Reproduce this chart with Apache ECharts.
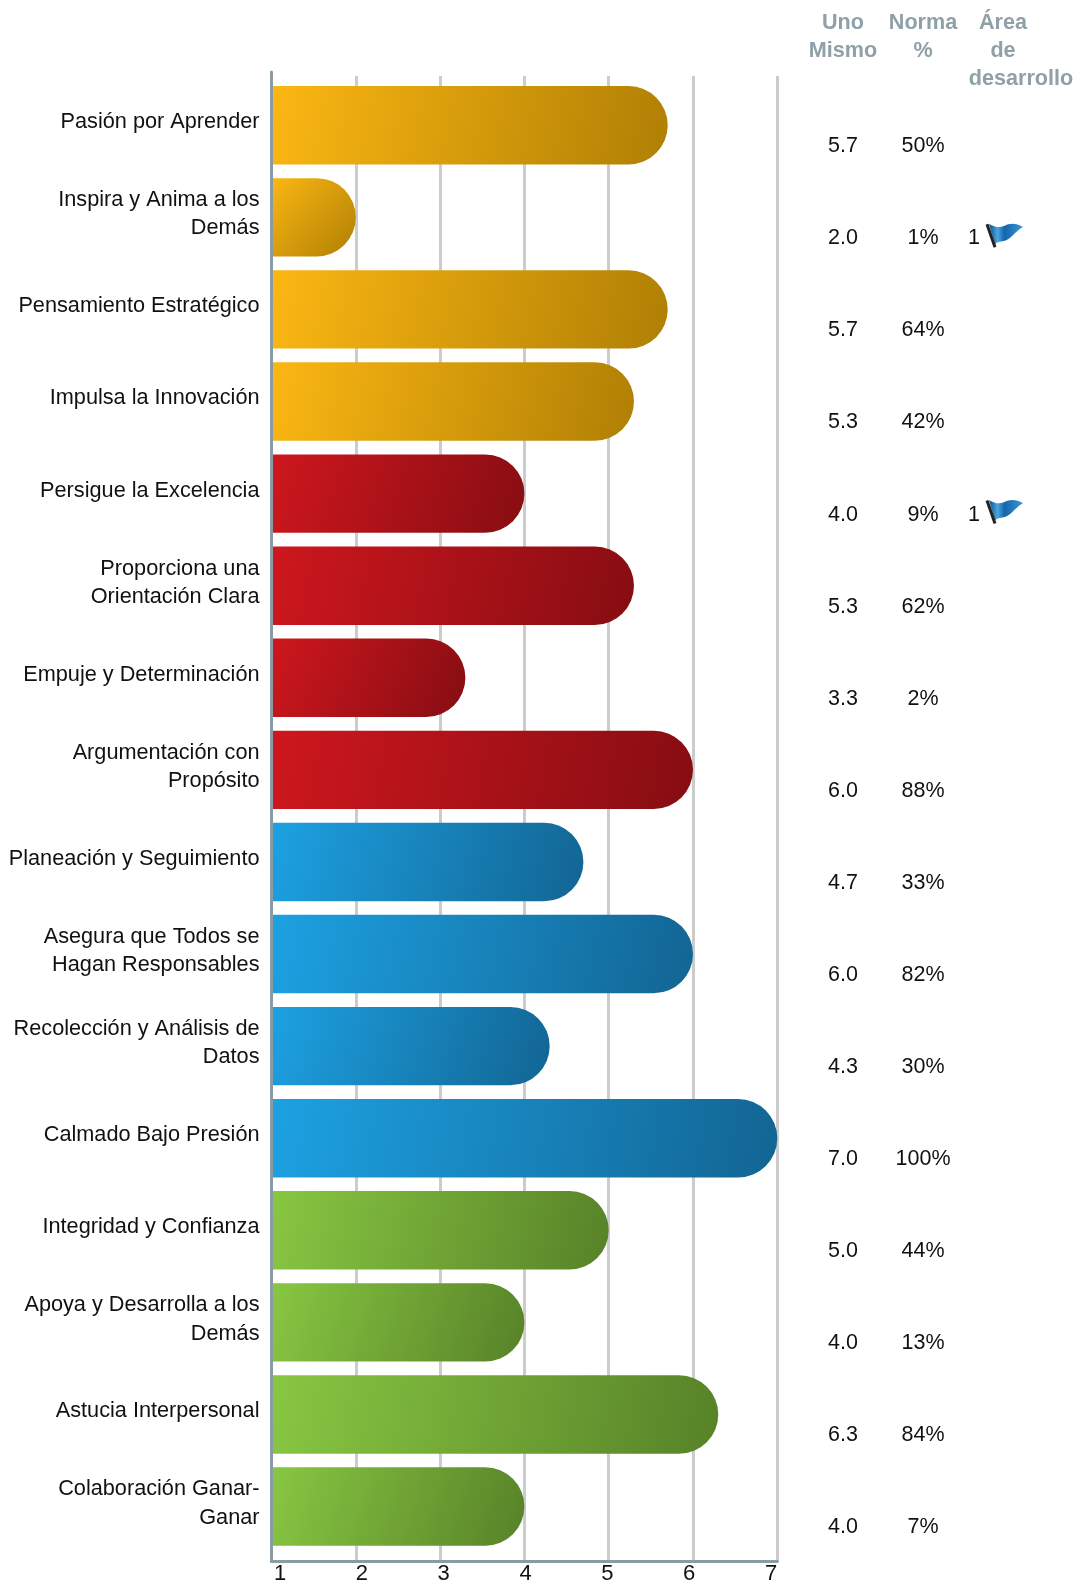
<!DOCTYPE html>
<html><head><meta charset="utf-8">
<style>html,body{margin:0;padding:0;background:#fff}#c{width:1078px;height:1582px}</style>
<script src="https://cdn.jsdelivr.net/npm/echarts@6/dist/echarts.min.js"></script>
</head><body><div id="c"></div>
<script>
const categories = ['Pasión por Aprender','Inspira y Anima a los\nDemás','Pensamiento Estratégico','Impulsa la Innovación','Persigue la Excelencia','Proporciona una\nOrientación Clara','Empuje y Determinación','Argumentación con\nPropósito','Planeación y Seguimiento','Asegura que Todos se\nHagan Responsables','Recolección y Análisis de\nDatos','Calmado Bajo Presión','Integridad y Confianza','Apoya y Desarrolla a los\nDemás','Astucia Interpersonal','Colaboración Ganar-\nGanar'];
const barValues = [5.7,2,5.7,5.3,4,5.3,3.3,6,4.7,6,4.3,7,5,4,6.3,4];
const selfLabels = ['5.7','2.0','5.7','5.3','4.0','5.3','3.3','6.0','4.7','6.0','4.3','7.0','5.0','4.0','6.3','4.0'];
const normLabels = ['50%','1%','64%','42%','9%','62%','2%','88%','33%','82%','30%','100%','44%','13%','84%','7%'];
const devLabels = ['','1','','','1','','','','','','','','','','',''];
const groupOf = [0,0,0,0,1,1,1,1,2,2,2,2,3,3,3,3];
const gradients = [['#FBB713','#B07F04'],['#CE171E','#860D12'],['#1DA1E2','#126593'],['#88C742','#578228']];

const pageW=1078;
const gridL=271.5, gridR=777.3, barTop=79.2, barBot=1552.6;
const box=(l,r,t,b)=>({left:l,width:r-l,top:t,height:b-t});
const catAxis=(grid,extra)=>Object.assign({type:'category',gridIndex:grid,data:categories,inverse:true,axisLine:{show:false},axisTick:{show:false},axisLabel:{show:false},splitLine:{show:false}},extra);
const valAxis=(grid,extra)=>Object.assign({type:'value',gridIndex:grid,min:1,max:7,interval:1,axisLine:{show:false},axisTick:{show:false},axisLabel:{show:false},splitLine:{show:false}},extra);
const fontFamily='"Liberation Sans", Arial, sans-serif';
const colAxis=(grid,data,x)=>({type:'category',gridIndex:grid,data:data,inverse:true,position:'left',offset:-x,axisLine:{show:false},axisTick:{show:false},splitLine:{show:false},
  axisLabel:{show:true,interval:0,align:'center',margin:0,fontSize:21.5,color:'#111',fontFamily:fontFamily}});

const option={
  animation:false,backgroundColor:'#fff',
  textStyle:{fontFamily:fontFamily},
  grid:[
    box(gridL,gridR,76,1561),
    box(gridL,gridR,72,1561),
    box(gridL,gridR,barTop,barBot),
    box(280,771,1561,1562),
    box(0,pageW,barTop+21,barBot+21),
    box(gridL,gridR,barTop-3,barBot-3)
  ],
  xAxis:[
    valAxis(0,{splitLine:{show:true,lineStyle:{color:'#cccccc',width:3}}}),
    valAxis(1,{axisLine:{show:true,onZero:false,lineStyle:{color:'#8a9ba3',width:3}},z:5}),
    valAxis(2),
    valAxis(3,{axisLabel:{show:true,margin:2,fontSize:22,color:'#111',fontFamily:fontFamily,hideOverlap:false,showMinLabel:true,showMaxLabel:true}}),
    {type:'value',gridIndex:4,min:0,max:pageW,show:false},
    valAxis(5)
  ],
  yAxis:[
    catAxis(0),
    catAxis(1,{axisLine:{show:true,onZero:false,lineStyle:{color:'#8a9ba3',width:3}},z:5}),
    catAxis(2),
    catAxis(3),
    colAxis(4,selfLabels,843),
    colAxis(4,normLabels,923),
    colAxis(4,devLabels,974),
    catAxis(5,{axisLabel:{show:true,interval:0,margin:12,fontSize:21.7,lineHeight:28.3,color:'#111',align:'right',fontFamily:fontFamily}})
  ],
  series:[
    {type:'bar',xAxisIndex:2,yAxisIndex:2,barWidth:78.4,z:3,
     data:barValues.map((v,i)=>{const g=gradients[groupOf[i]];return {value:v,itemStyle:{
       borderRadius:[0,39.2,39.2,0],
       color:new echarts.graphic.LinearGradient(0,0,1,1,[{offset:0,color:g[0]},{offset:1,color:g[1]}])}};})},
    {type:'custom',xAxisIndex:4,yAxisIndex:4,z:4,silent:true,clip:false,
     data:devLabels.map((d,i)=>d?[1004,i]:null).filter(Boolean),
     renderItem:function(p,api){
       const c=api.coord([api.value(0),api.value(1)]);
       return {type:'group',x:c[0],y:c[1]-1,children:[
         {type:'path',shape:{pathData:'M-15,-13 C-9,-10 -5,-9 0,-11 C6,-14 12,-14 19,-10 C13,-7 9,-1 4,2 C-1,5 -5,3 -9,7 Z',x:-15,y:-13.5,width:34,height:20.5,layout:'cover'},
          style:{fill:new echarts.graphic.LinearGradient(0,0,1,0,[{offset:0,color:'#0d4f8a'},{offset:.25,color:'#4aa6e0'},{offset:.45,color:'#1565ad'},{offset:1,color:'#3a98d4'}])}},
         {type:'line',shape:{x1:-17,y1:-13,x2:-9,y2:10},style:{stroke:'#222',lineWidth:3}}
       ]};
     }}
  ],
  graphic:[
    ...[['Uno',843,23],['Mismo',843,51],['Norma',923,23],['%',923,51],['Área',1003,23],['de',1003,51],['desarrollo',1021,79]].map(t=>({
      type:'text',x:t[1],y:t[2],style:{text:t[0],align:'center',verticalAlign:'middle',fontSize:21.6,fontWeight:'bold',fill:'#8fa0a7',fontFamily:fontFamily}}))
  ]
};
const chart=echarts.init(document.getElementById('c'),null,{renderer:'canvas'});
chart.setOption(option);
</script></body></html>
